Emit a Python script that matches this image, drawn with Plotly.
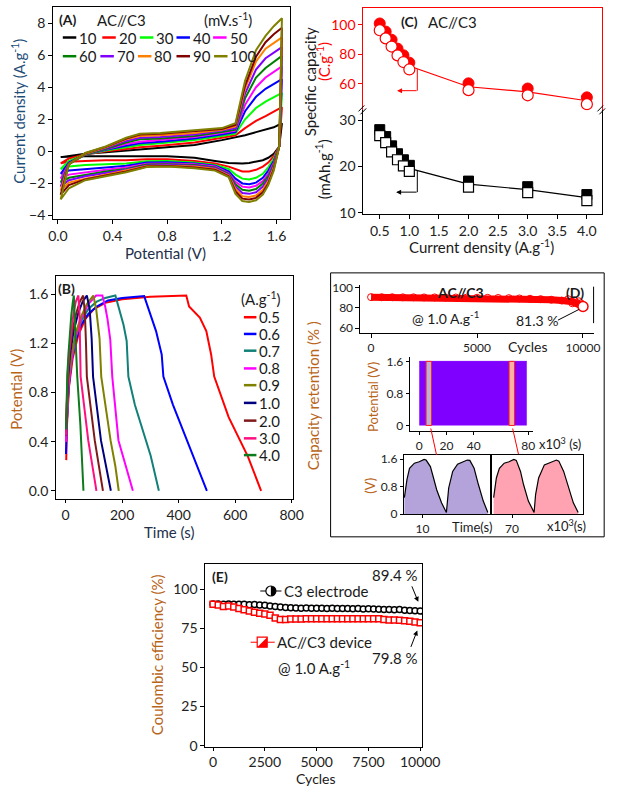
import plotly.graph_objects as go

W, H = 627, 794
FONT = "Lato, 'Open Sans', sans-serif"
ORANGE = "#B8651B"
NAVY = "#1F4E79"
DARK = "#1a1a1a"
INK = "#22304A"

# ---------------- Panel A : CV curves ----------------
cv_rates = ["10", "20", "30", "40", "50", "60", "70", "80", "90", "100"]
cv_colors = ["#000000", "#FF0000", "#00FF00", "#0000FF", "#FF00FF",
             "#008000", "#8000FF", "#FF8000", "#800000", "#808000"]
cv_v_anodic = [0.02, 0.08, 0.2, 0.35, 0.5, 0.6, 0.75, 1.0, 1.2, 1.3, 1.37, 1.45, 1.52, 1.58, 1.64]
cv_v_cathodic = [1.64, 1.62, 1.58, 1.54, 1.5, 1.45, 1.4, 1.35, 1.3, 1.25, 1.15, 1.0, 0.8, 0.65, 0.5, 0.35, 0.2, 0.08, 0.02]
cv10_up = [-0.36, -0.3, -0.15, -0.05, 0.05, 0.1, 0.2, 0.4, 0.7, 0.85, 1.0, 1.2, 1.35, 1.5, 1.75]
cv10_dn = [1.75, 0.3, -0.15, -0.4, -0.55, -0.65, -0.72, -0.75, -0.75, -0.72, -0.6, -0.4, -0.3, -0.3, -0.28, -0.28, -0.3, -0.33, -0.36]
cv20_up = [-0.75, -0.45, -0.2, 0.0, 0.15, 0.25, 0.35, 0.55, 0.85, 1.0, 1.45, 1.9, 2.2, 2.45, 2.75]
cv20_dn = [2.75, 0.3, -0.3, -0.7, -0.95, -1.15, -1.25, -1.25, -1.1, -0.95, -0.75, -0.6, -0.5, -0.5, -0.55, -0.55, -0.6, -0.65, -0.75]
cv30_up = [-1.1, -0.6, -0.2, 0.05, 0.25, 0.4, 0.5, 0.7, 0.95, 1.1, 2.0, 2.7, 3.1, 3.35, 3.65]
cv30_dn = [3.65, 0.3, -0.45, -1.0, -1.4, -1.65, -1.75, -1.7, -1.45, -1.1, -0.85, -0.7, -0.6, -0.62, -0.75, -0.8, -0.85, -0.95, -1.1]
cv40_up = [-1.4, -0.7, -0.2, 0.1, 0.35, 0.5, 0.6, 0.8, 1.05, 1.2, 2.5, 3.4, 3.9, 4.2, 4.5]
cv40_dn = [4.5, 0.3, -0.6, -1.2, -1.65, -1.95, -2.05, -2.0, -1.7, -1.25, -0.9, -0.75, -0.68, -0.7, -0.9, -1.0, -1.1, -1.2, -1.4]
cv50_up = [-1.7, -0.75, -0.2, 0.12, 0.45, 0.6, 0.7, 0.9, 1.15, 1.3, 2.9, 4.0, 4.6, 4.95, 5.3]
cv50_dn = [5.3, 0.3, -0.7, -1.4, -1.85, -2.15, -2.25, -2.2, -1.9, -1.35, -0.95, -0.8, -0.75, -0.78, -1.0, -1.15, -1.3, -1.45, -1.7]
cv60_up = [-1.95, -0.8, -0.2, 0.15, 0.55, 0.75, 0.8, 0.95, 1.2, 1.35, 3.3, 4.6, 5.2, 5.55, 5.95]
cv60_dn = [5.95, 0.3, -0.8, -1.55, -2.0, -2.35, -2.45, -2.4, -2.05, -1.4, -1.0, -0.85, -0.8, -0.82, -1.1, -1.25, -1.45, -1.65, -1.95]
cv70_up = [-2.2, -0.8, -0.15, 0.2, 0.65, 0.85, 0.9, 1.05, 1.3, 1.45, 3.6, 5.1, 5.8, 6.15, 6.5]
cv70_dn = [6.5, 0.3, -0.9, -1.7, -2.2, -2.55, -2.65, -2.6, -2.2, -1.45, -1.05, -0.9, -0.85, -0.88, -1.15, -1.35, -1.55, -1.8, -2.2]
cv80_up = [-2.45, -0.8, -0.15, 0.25, 0.75, 0.95, 1.0, 1.15, 1.35, 1.55, 3.9, 5.6, 6.4, 6.75, 7.1]
cv80_dn = [7.1, 0.3, -1.0, -1.85, -2.4, -2.75, -2.85, -2.8, -2.35, -1.5, -1.1, -0.95, -0.9, -0.92, -1.2, -1.45, -1.7, -1.95, -2.45]
cv90_up = [-2.7, -0.8, -0.12, 0.28, 0.8, 1.05, 1.1, 1.25, 1.4, 1.65, 4.1, 5.9, 6.8, 7.3, 7.7]
cv90_dn = [7.7, 0.3, -1.1, -2.0, -2.55, -2.9, -3.0, -2.95, -2.5, -1.55, -1.15, -1.0, -0.92, -0.95, -1.25, -1.5, -1.75, -2.1, -2.7]
cv100_up = [-3.0, -0.8, -0.1, 0.3, 0.85, 1.1, 1.15, 1.3, 1.45, 1.75, 4.4, 6.3, 7.2, 7.8, 8.3]
cv100_dn = [8.3, 0.3, -1.2, -2.1, -2.7, -3.05, -3.15, -3.1, -2.65, -1.6, -1.2, -1.05, -0.95, -0.98, -1.3, -1.55, -1.8, -2.3, -3.0]
cv_up = [cv10_up, cv20_up, cv30_up, cv40_up, cv50_up, cv60_up, cv70_up, cv80_up, cv90_up, cv100_up]
cv_dn = [cv10_dn, cv20_dn, cv30_dn, cv40_dn, cv50_dn, cv60_dn, cv70_dn, cv80_dn, cv90_dn, cv100_dn]

# ---------------- Panel B : GCD curves ----------------
gcd_labels = ["0.5", "0.6", "0.7", "0.8", "0.9", "1.0", "2.0", "3.0", "4.0"]
gcd_colors = ["#FF0000", "#0000FF", "#128078", "#FF00FF", "#808000",
              "#00007F", "#7F1A1A", "#FF0F7F", "#0E7A1E"]
gcd05_t = [2, 5, 12, 25, 45, 70, 100, 140, 200, 300, 427, 437, 475, 498, 515, 526, 577, 645, 692]
gcd05_v = [0.25, 0.55, 0.85, 1.08, 1.27, 1.4, 1.48, 1.53, 1.56, 1.58, 1.59, 1.5, 1.41, 1.3, 1.11, 0.93, 0.6, 0.28, 0.0]
gcd06_t = [1, 4, 10, 20, 35, 55, 80, 110, 150, 200, 278, 290, 301, 320, 340, 346, 380, 419, 464, 500]
gcd06_v = [0.3, 0.55, 0.82, 1.05, 1.22, 1.35, 1.44, 1.5, 1.55, 1.57, 1.585, 1.5, 1.42, 1.3, 1.11, 0.93, 0.7, 0.47, 0.21, 0.0]
gcd07_t = [1, 4, 10, 20, 35, 55, 80, 110, 140, 176, 185, 193, 205, 216, 222, 245, 272, 301, 330]
gcd07_v = [0.4, 0.6, 0.85, 1.05, 1.25, 1.38, 1.48, 1.54, 1.57, 1.59, 1.52, 1.46, 1.35, 1.22, 0.93, 0.7, 0.49, 0.285, 0.0]
gcd08_t = [1, 4, 10, 20, 35, 55, 80, 108, 130, 140, 148, 158, 165, 187, 210, 238]
gcd08_v = [0.4, 0.6, 0.85, 1.05, 1.25, 1.4, 1.52, 1.59, 1.59, 1.5, 1.4, 1.23, 0.93, 0.41, 0.23, 0.0]
gcd09_t = [1, 4, 10, 20, 35, 55, 75, 98, 108, 120, 126, 159, 176, 188]
gcd09_v = [0.45, 0.65, 0.9, 1.1, 1.28, 1.42, 1.52, 1.59, 1.48, 1.24, 0.93, 0.41, 0.2, 0.0]
gcd10_t = [1, 3, 8, 15, 28, 45, 60, 75, 85, 92, 97, 125, 145, 160]
gcd10_v = [0.45, 0.65, 0.9, 1.1, 1.3, 1.45, 1.54, 1.59, 1.48, 1.24, 0.93, 0.41, 0.18, 0.0]
gcd20_t = [1, 3, 8, 15, 25, 38, 50, 62, 68, 72, 75, 103, 118, 132]
gcd20_v = [0.5, 0.7, 0.95, 1.15, 1.32, 1.45, 1.54, 1.59, 1.45, 1.2, 0.93, 0.41, 0.2, 0.0]
gcd30_t = [1, 3, 7, 13, 20, 28, 36, 45, 49, 51, 53, 80, 95, 109]
gcd30_v = [0.45, 0.7, 0.95, 1.15, 1.32, 1.45, 1.54, 1.59, 1.45, 1.2, 0.93, 0.41, 0.2, 0.0]
gcd40_t = [1, 3, 6, 10, 15, 20, 25, 29, 32, 35, 41, 52, 63]
gcd40_v = [0.5, 0.75, 0.95, 1.12, 1.3, 1.43, 1.53, 1.59, 1.4, 1.2, 0.93, 0.54, 0.0]
gcd_t = [gcd05_t, gcd06_t, gcd07_t, gcd08_t, gcd09_t, gcd10_t, gcd20_t, gcd30_t, gcd40_t]
gcd_v = [gcd05_v, gcd06_v, gcd07_v, gcd08_v, gcd09_v, gcd10_v, gcd20_v, gcd30_v, gcd40_v]

# ---------------- Panel C : rate capability ----------------
current_density = [0.5, 0.6, 0.7, 0.8, 0.9, 1.0, 2.0, 3.0, 4.0]
cap_coulomb = [98.5, 93.0, 87.5, 81.5, 77.0, 72.0, 58.0, 54.5, 48.5]
cap_mah = [27.3, 25.8, 23.8, 22.1, 20.8, 19.6, 16.2, 15.0, 13.3]

# ---------------- Panel D : cycling ----------------
d_cycles = [0, 500, 1000, 1500, 2000, 2500, 3000, 3500, 4000, 4500, 5000,
            5500, 6000, 6500, 7000, 7500, 8000, 8500, 9000, 9500, 10000]
d_retention = [90.6, 90.5, 90.5, 90.4, 90.4, 90.3, 90.3, 90.2, 90.2, 90.1, 90.0,
               89.9, 89.8, 89.6, 89.3, 89.0, 88.6, 88.0, 87.2, 86.0, 81.3]
d_tail_cycles = [9300, 9500, 9600, 9700, 9800, 9850, 9900]
d_tail_ret = [88.5, 84.5, 87.0, 85.0, 86.5, 83.5, 84.5]
d_final_cycle = [10000]
d_final_ret = [81.3]
d_long_t = [0, 79]
d_long_v = [1.6, 1.6]
d_sel1_t = [5, 9]
d_sel2_t = [66, 70]
d_zoom1_t = [9.37, 9.46, 9.55, 9.72, 9.89, 10.06, 10.13, 10.28, 10.39, 10.50, 10.67, 10.84,
             10.92, 11.06, 11.23, 11.57, 11.66, 11.81, 11.96, 12.13, 12.29]
d_zoom1_v = [0.48, 1.0, 1.33, 1.48, 1.52, 1.59, 1.57, 1.38, 1.05, 0.71, 0.33, 0.05,
             0.76, 1.24, 1.45, 1.57, 1.56, 1.33, 0.86, 0.38, 0.05]
d_zoom2_t = [69.39, 69.48, 69.58, 69.74, 69.90, 70.06, 70.14, 70.28, 70.38, 70.54, 70.73,
             70.78, 70.88, 71.07, 71.47, 71.55, 71.71, 71.87, 72.03, 72.19]
d_zoom2_v = [0.48, 1.05, 1.33, 1.48, 1.52, 1.59, 1.56, 1.24, 0.86, 0.38, 0.05,
             0.57, 1.05, 1.43, 1.57, 1.54, 1.24, 0.76, 0.33, 0.05]

# ---------------- Panel E : coulombic efficiency ----------------
e_cycles = [0, 250, 500, 750, 1000, 1250, 1500, 1750, 2000, 2250, 2500, 2750, 3000, 3250,
            3500, 3750, 4000, 4250, 4500, 4750, 5000, 5250, 5500, 5750, 6000, 6250, 6500,
            6750, 7000, 7250, 7500, 7750, 8000, 8250, 8500, 8750, 9000, 9250, 9500, 9750, 10000]
e_electrode = [90.5, 90.5, 90.3, 90.4, 90.3, 90.2, 90.3, 90.0, 90.1, 89.8, 89.6, 89.2, 88.8, 88.5,
               88.2, 88.0, 87.9, 87.8, 87.9, 87.8, 87.7, 87.8, 87.6, 87.7, 87.6, 87.5, 87.6,
               87.4, 87.5, 87.3, 87.4, 87.2, 87.1, 87.0, 87.0, 86.8, 86.9, 86.5, 86.3, 86.1, 85.9]
e_device = [90.2, 89.8, 88.8, 89.2, 88.5, 87.5, 86.8, 86.0, 85.2, 84.5, 84.0, 83.2, 81.5, 80.5,
            80.6, 80.8, 80.9, 80.9, 81.0, 81.0, 81.0, 81.1, 81.0, 81.0, 81.1, 81.0, 81.0,
            81.0, 81.1, 81.0, 81.0, 81.0, 81.0, 80.5, 80.3, 80.2, 80.0, 79.8, 79.4, 79.0, 78.5]


def X(p):
    return p / W


def Y(p):
    return 1 - p / H


fig = go.Figure()

base_axis = dict(showgrid=False, zeroline=False, showline=True, linecolor="black", linewidth=1,
                 ticks="outside", ticklen=4, tickwidth=1, tickcolor="black",
                 tickfont=dict(family=FONT, size=14, color="#222"))
axes = {}


def add_axes(n, xpx, ypx, xr, yr, xkw=None, ykw=None):
    s = "" if n == 1 else str(n)
    xa = dict(base_axis, domain=[X(xpx[0]), X(xpx[1])], range=xr, anchor="y" + s)
    ya = dict(base_axis, domain=[Y(ypx[1]), Y(ypx[0])], range=yr, anchor="x" + s)
    xa.update(xkw or {})
    ya.update(ykw or {})
    axes["xaxis" + s] = xa
    axes["yaxis" + s] = ya


small = dict(family=FONT, size=12, color="#222")
add_axes(1, (50, 296), (2, 217), [-0.035, 1.70], [-4.2, 9.0],
         dict(mirror=True, tickvals=[0, 0.4, 0.8, 1.2, 1.6], tickformat=".1f"),
         dict(mirror=True, tickvals=[-4, -2, 0, 2, 4, 6, 8]))
add_axes(2, (53, 299), (275, 502), [-34, 805], [-0.07, 1.75],
         dict(mirror=True, tickvals=[0, 200, 400, 600, 800], ticklen=3),
         dict(mirror=True, tickvals=[0, 0.4, 0.8, 1.2, 1.6], tickformat=".1f"))
add_axes(3, (372, 620), (3, 107), [0.223, 4.26], [42, 111.3],
         dict(side="top", showticklabels=False, ticks="", linecolor="#FF0000"),
         dict(mirror=True, linecolor="#FF0000", tickcolor="#FF0000", tickvals=[60, 80, 100],
              tickfont=dict(family=FONT, size=14, color="#FF0000")))
add_axes(4, (372, 620), (107, 212), [0.223, 4.26], [9.8, 32.1],
         dict(tickvals=[0.5, 1.0, 1.5, 2.0, 2.5, 3.0, 3.5, 4.0], tickformat=".1f"),
         dict(mirror=True, tickvals=[10, 20, 30]))
add_axes(5, (369, 611), (284, 333), [-500, 10500], [55.1, 102.9],
         dict(tickvals=[0, 5000, 10000], ticktext=["0", "5000", "10000"], tickfont=small),
         dict(tickvals=[60, 80, 100], tickfont=small))
add_axes(6, (420, 548), (357, 433), [-7.1, 83.5], [-0.15, 1.72],
         dict(tickvals=[0, 20, 40, 80], tickfont=small, ticklen=3),
         dict(tickvals=[0, 0.8, 1.6], ticktext=["0", "0.8", "1.6"], tickfont=small, ticklen=3))
add_axes(7, (414, 503), (457, 517), [9.35, 12.35], [0, 1.714],
         dict(mirror=True, tickvals=[10], tickfont=small, ticklen=3),
         dict(mirror=True, tickvals=[0, 0.8, 1.6], ticktext=["0", "0.8", "1.6"], tickfont=small, ticklen=3))
add_axes(8, (506, 600), (457, 517), [69.35, 72.35], [0, 1.714],
         dict(mirror=True, tickvals=[70], tickfont=small, ticklen=3),
         dict(mirror=True, showticklabels=False, ticks=""))
add_axes(9, (208, 433), (568, 753), [-372, 10093], [-0.6, 115.7],
         dict(mirror=True, tickvals=[0, 2500, 5000, 7500, 10000],
              ticktext=["0", "2500", "5000", "7500", "10000"], ticklen=3),
         dict(mirror=True, tickvals=[0, 25, 50, 75, 100]))

# ---- A traces
for i in range(len(cv_rates)):
    fig.add_trace(go.Scatter(x=cv_v_anodic + cv_v_cathodic, y=cv_up[i] + cv_dn[i], mode="lines",
                             line=dict(color=cv_colors[i], width=2), name=cv_rates[i] + " mV/s",
                             showlegend=False, xaxis="x", yaxis="y"))
# ---- B traces
for i in range(len(gcd_labels)):
    fig.add_trace(go.Scatter(x=gcd_t[i], y=gcd_v[i], mode="lines",
                             line=dict(color=gcd_colors[i], width=2), name=gcd_labels[i] + " A/g",
                             showlegend=False, xaxis="x2", yaxis="y2"))
# ---- C traces
off_c = 2.3
off_m = 0.65
fig.add_trace(go.Scatter(x=current_density, y=cap_coulomb, mode="lines",
                         line=dict(color="#FF0000", width=1.2), showlegend=False, xaxis="x3", yaxis="y3"))
fig.add_trace(go.Scatter(x=current_density, y=[v + off_c for v in cap_coulomb], mode="markers",
                         marker=dict(symbol="circle", size=11, color="#FF0000", line=dict(color="#FF0000", width=1)),
                         showlegend=False, xaxis="x3", yaxis="y3"))
fig.add_trace(go.Scatter(x=current_density, y=[v - off_c for v in cap_coulomb], mode="markers",
                         marker=dict(symbol="circle", size=11, color="white", line=dict(color="#FF0000", width=1.2)),
                         showlegend=False, xaxis="x3", yaxis="y3"))
fig.add_trace(go.Scatter(x=current_density, y=cap_mah, mode="lines",
                         line=dict(color="black", width=1.2), showlegend=False, xaxis="x4", yaxis="y4"))
fig.add_trace(go.Scatter(x=current_density, y=[v + off_m for v in cap_mah], mode="markers",
                         marker=dict(symbol="square", size=10, color="black", line=dict(color="black", width=1)),
                         showlegend=False, xaxis="x4", yaxis="y4"))
fig.add_trace(go.Scatter(x=current_density, y=[v - off_m for v in cap_mah], mode="markers",
                         marker=dict(symbol="square", size=10, color="white", line=dict(color="black", width=1.2)),
                         showlegend=False, xaxis="x4", yaxis="y4"))
# ---- D traces
fig.add_trace(go.Scatter(x=d_cycles, y=d_retention, mode="lines+markers",
                         line=dict(color="#FF0000", width=7),
                         marker=dict(symbol="circle-open", size=7, color="#FF0000"),
                         showlegend=False, xaxis="x5", yaxis="y5"))
fig.add_trace(go.Scatter(x=d_tail_cycles, y=d_tail_ret, mode="markers",
                         marker=dict(symbol="circle-open", size=7, color="#FF0000"),
                         showlegend=False, xaxis="x5", yaxis="y5"))
fig.add_trace(go.Scatter(x=d_final_cycle, y=d_final_ret, mode="markers",
                         marker=dict(symbol="circle", size=10, color="white", line=dict(color="#FF0000", width=1.5)),
                         showlegend=False, xaxis="x5", yaxis="y5"))
fig.add_trace(go.Scatter(x=d_long_t, y=d_long_v, mode="lines", fill="tozeroy",
                         line=dict(color="#8000FF", width=1), fillcolor="#8000FF",
                         showlegend=False, xaxis="x6", yaxis="y6"))
for sel, fc in ((d_sel1_t, "#B8B0D8"), (d_sel2_t, "#FFB0A0")):
    fig.add_trace(go.Scatter(x=[sel[0], sel[1], sel[1], sel[0], sel[0]],
                             y=[0, 0, d_long_v[0], d_long_v[0], 0], mode="lines", fill="toself",
                             fillcolor=fc, line=dict(color="#FF2020", width=1),
                             showlegend=False, xaxis="x6", yaxis="y6"))
fig.add_trace(go.Scatter(x=d_zoom1_t, y=d_zoom1_v, mode="lines", fill="tozeroy",
                         line=dict(color="black", width=1.2), fillcolor="#B3A3DA",
                         showlegend=False, xaxis="x7", yaxis="y7"))
fig.add_trace(go.Scatter(x=d_zoom2_t, y=d_zoom2_v, mode="lines", fill="tozeroy",
                         line=dict(color="black", width=1.2), fillcolor="#FFA3B3",
                         showlegend=False, xaxis="x8", yaxis="y8"))
# ---- E traces
fig.add_trace(go.Scatter(x=e_cycles, y=e_electrode, mode="lines+markers",
                         line=dict(color="black", width=1),
                         marker=dict(symbol="circle", size=6, color="white", line=dict(color="black", width=1.5)),
                         showlegend=False, xaxis="x9", yaxis="y9"))
fig.add_trace(go.Scatter(x=e_cycles, y=e_device, mode="lines+markers",
                         line=dict(color="#FF0000", width=1),
                         marker=dict(symbol="square", size=6, color="white", line=dict(color="#FF0000", width=1.5)),
                         showlegend=False, xaxis="x9", yaxis="y9"))

# ---------------- annotations & shapes ----------------
ann = []
shapes = []


def txt(x, y, s, size=14, color=DARK, bold=False, xanchor="center", angle=0):
    if bold:
        s = "<b>" + s + "</b>"
    ann.append(dict(x=X(x), y=Y(y), xref="paper", yref="paper", text=s, showarrow=False,
                    xanchor=xanchor, yanchor="middle", textangle=angle,
                    font=dict(family=FONT, size=size, color=color)))


def seg(x0, y0, x1, y1, color="black", width=1):
    shapes.append(dict(type="line", xref="paper", yref="paper", x0=X(x0), y0=Y(y0),
                       x1=X(x1), y1=Y(y1), line=dict(color=color, width=width)))


def arrow(x_tail, y_tail, x_head, y_head, color="black"):
    ann.append(dict(x=X(x_head), y=Y(y_head), xref="paper", yref="paper", text="",
                    showarrow=True, arrowhead=2, arrowsize=1, arrowwidth=1, arrowcolor=color,
                    ax=x_tail - x_head, ay=y_tail - y_head))


# Panel A texts + legend
txt(65, 15, "(A)", 14, bold=True)
txt(121, 15, "AC//C3", 15)
txt(231, 15, "(mV.s<sup>-1</sup>)", 15)
row1 = [60, 101, 140, 178, 216]
row2 = [60, 99, 138, 178, 217]
for i in range(5):
    seg(row1[i], 33, row1[i] + 14, 33, cv_colors[i], 2.5)
    txt(row1[i] + 15, 33, cv_rates[i], 15, xanchor="left")
    seg(row2[i], 52, row2[i] + 14, 52, cv_colors[i + 5], 2.5)
    txt(row2[i] + 15, 52, cv_rates[i + 5], 15, xanchor="left")
txt(14, 108, "Current density (A.g<sup>-1</sup>)", 15, NAVY, angle=-90)
txt(167, 252, "Potential (V)", 15, INK)

# Panel B
txt(64, 288, "(B)", 14, bold=True)
txt(266, 298, "(A.g<sup>-1</sup>)", 15)
b_rows = [317, 334, 351, 369, 386, 404, 422, 440, 457]
for i in range(len(gcd_labels)):
    seg(248, b_rows[i], 261, b_rows[i], gcd_colors[i], 2.5)
    txt(262, b_rows[i], gcd_labels[i], 15, xanchor="left")
txt(12, 390, "Potential (V)", 15, ORANGE, angle=-90)
txt(170, 535, "Time (s)", 15, INK)

# Panel C
txt(420, 17, "(C)", 14, bold=True)
txt(465, 17, "AC//C3", 15)
txt(316, 78, "Specific capacity", 15, DARK, angle=-90)
txt(330, 57, "(C.g<sup>-1</sup>)", 15, "#FF0000", angle=-90)
txt(330, 167, "(mAh.g<sup>-1</sup>)", 15, DARK, angle=-90)
txt(495, 245, "Current density (A.g<sup>-1</sup>)", 15, DARK)
seg(428, 65, 428, 87, "#FF0000", 1)
arrow(428, 87, 407, 87, "#FF0000")
seg(428, 168, 428, 190, "black", 1)
arrow(428, 190, 406, 190, "black")
for xb in (372, 620):
    seg(xb - 5, 108, xb + 1, 102, "black", 1)
    seg(xb - 3, 111, xb + 3, 105, "black", 1)

# Panel D
shapes.append(dict(type="rect", xref="paper", yref="paper", x0=X(338), y0=Y(540), x1=X(622), y1=Y(272),
                   line=dict(color="black", width=1)))
seg(611, 286, 611, 323, "black", 1)
txt(473, 292, "AC//C3", 14, bold=True)
txt(592, 292, "(D)", 14, bold=True)
txt(457, 317, "@ 1.0 A.g<sup>-1</sup>", 14)
txt(552, 320, "81.3 %", 14)
seg(574, 320, 596, 309, "black", 1)
txt(543, 347, "Cycles", 14)
txt(382, 398, "Potential (V)", 13, ORANGE, angle=-90)
txt(576, 445, "x10<sup>3</sup> (s)", 13)
seg(442, 430, 448, 457, "#FF0000", 1)
seg(527, 430, 533, 456, "#FF0000", 1)
txt(379, 488, "(V)", 13, ORANGE, angle=-90)
txt(485, 530, "Time(s)", 13)
txt(583, 528, "x10<sup>3</sup>(s)", 13)
txt(320, 397, "Capacity retention (% )", 15, ORANGE, angle=-90)

# Panel E
txt(223, 580, "(E)", 14, bold=True)
txt(158, 660, "Coulombic efficiency (%)", 15, ORANGE, angle=-90)
txt(323, 785, "Cycles", 14, DARK)
seg(265, 595, 287, 595, "black", 1)
shapes.append(dict(type="circle", xref="paper", yref="paper", xsizemode="pixel", ysizemode="pixel",
                   xanchor=X(276), yanchor=Y(595), x0=-5, x1=5, y0=-5, y1=5,
                   fillcolor="white", line=dict(color="black", width=1.2)))
shapes.append(dict(type="path", xref="paper", yref="paper", xsizemode="pixel", ysizemode="pixel",
                   xanchor=X(276), yanchor=Y(595),
                   path="M0,-5 L1.9,-4.6 L3.5,-3.5 L4.6,-1.9 L5,0 L4.6,1.9 L3.5,3.5 L1.9,4.6 L0,5 Z",
                   fillcolor="black", line=dict(width=0)))
txt(288, 595, "C3 electrode", 15, xanchor="left")
seg(255, 647, 280, 647, "#FF0000", 1)
shapes.append(dict(type="rect", xref="paper", yref="paper", xsizemode="pixel", ysizemode="pixel",
                   xanchor=X(267), yanchor=Y(647), x0=-5, x1=5, y0=-5, y1=5,
                   fillcolor="white", line=dict(color="#FF0000", width=1.2)))
shapes.append(dict(type="path", xref="paper", yref="paper", xsizemode="pixel", ysizemode="pixel",
                   xanchor=X(267), yanchor=Y(647), path="M-5,-5 L5,-5 L5,5 Z",
                   fillcolor="#FF0000", line=dict(width=0)))
txt(280, 647, "AC//C3 device", 15, xanchor="left")
txt(321, 673, "@ 1.0 A.g<sup>-1</sup>", 15)
txt(405, 579, "89.4 %", 15)
arrow(422, 589, 429, 606)
txt(405, 663, "79.8 %", 15)
arrow(421, 653, 428, 635)

fig.update_layout(width=W, height=H, margin=dict(l=0, r=0, t=0, b=0),
                  paper_bgcolor="white", plot_bgcolor="white",
                  font=dict(family=FONT, size=14, color=DARK),
                  showlegend=False, annotations=ann, shapes=shapes, **axes)
fig.write_html("out.html")
